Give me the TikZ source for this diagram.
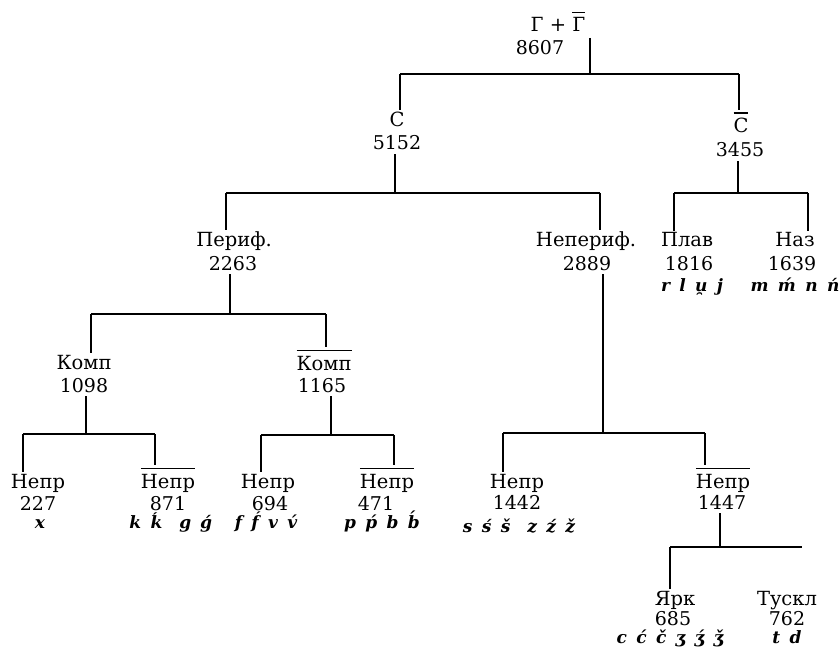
\documentclass[tikz,border=0pt]{standalone}
\usepackage{fontspec}
\setmainfont{DejaVu Serif}
\usepackage{tikz}
\usetikzlibrary{positioning,calc}
\newcommand\negbar[1]{\setbox0=\hbox{#1}\leavevmode\rlap{\rule[\dimexpr\ht0+5pt\relax]{\wd0}{1.1pt}}\box0}
\newcommand\sndfont{\fontsize{17}{18}\selectfont\bfseries\itshape\spaceskip=0.55em plus 0.1em\relax}
\tikzset{
  branch/.style={line width=1.1pt},
  lbl/.style={anchor=base,inner sep=2pt,font=\fontsize{19.5}{21}\selectfont},
  num/.style={anchor=base,inner sep=4pt,font=\fontsize{19}{20}\selectfont},
  snd/.style={anchor=base,inner sep=1pt,font=\sndfont}
}
\begin{document}
\begin{tikzpicture}[x=1pt,y=-1pt]
\useasboundingbox (0,0) rectangle (840,652);
\begin{scope}
    \node (gg) at (558,32) [lbl] {Г + \negbar{Г}};
    \node (n8607) at (540,55) [num] {8607};
    \coordinate (gg-s) at (590,38);
    \coordinate (b1l) at (400,74);
    \coordinate (b1r) at (739,74);
    \draw[branch] (gg-s) -- (gg-s |- b1l);
    \draw[branch] (b1l) -- (b1r);

    % consonants
    \node (cons) at (397,127) [lbl] {С};
    \node (n5152) at (397,150) [num] {5152};
    \node (ncons) at (741,133) [lbl] {\negbar{С}};
    \node (n3455) at (740,157) [num] {3455};
    \draw[branch] (b1l) -- (b1l |- cons.north);
    \draw[branch] (b1r) -- (b1r |- ncons.north);
\end{scope}

\begin{scope}
    \coordinate (b2s) at (395,193);
    \coordinate (b2l) at (226,193);
    \coordinate (b2r) at (600,193);
    \draw[branch] (n5152.south -| b2s) -- (b2s);
    \draw[branch] (b2l) -- (b2r);
    \node (per) at (234,247) [lbl] {Периф.};
    \node (n2263) at (233,270) [num] {2263};
    \node (nper) at (586,247) [lbl] {Непериф.};
    \node (n2889) at (587,270) [num] {2889};
    \draw[branch] (b2l) -- (b2l |- per.north);
    \draw[branch] (b2r) -- (b2r |- nper.north);

    \coordinate (b3s) at (738,193);
    \coordinate (b3l) at (674,193);
    \coordinate (b3r) at (808,193);
    \draw[branch] (n3455.south -| b3s) -- (b3s);
    \draw[branch] (b3l) -- (b3r);
    \node (plav) at (687,247) [lbl] {Плав};
    \node (n1816) at (689,270) [num] {1816};
    \node (s-plav) at (692,291) [snd] {r l u̯ j};
    \node (naz) at (795,247) [lbl] {Наз};
    \node (n1639) at (792,270) [num] {1639};
    \node (s-naz) at (795,291) [snd] {m ḿ n ń};
    \draw[branch] (b3l) -- (b3l |- plav.north);
    \draw[branch] (b3r) -- (b3r |- naz.north);
\end{scope}

\begin{scope}
    % peripheral
    \coordinate (b4s) at (230,314);
    \coordinate (b4l) at (91,314);
    \coordinate (b4r) at (326,314);
    \draw[branch] (n2263.south -| b4s) -- (b4s);
    \draw[branch] (b4l) -- (b4r);
    \node (komp) at (84,369) [lbl] {Комп};
    \node (n1098) at (84,392) [num] {1098};
    \node (nkomp) at (324,370) [lbl] {\negbar{Комп}};
    \node (n1165) at (322,392) [num] {1165};
    \draw[branch] (b4l) -- (b4l |- komp.north);
    \draw[branch] (b4r) -- (b4r |- nkomp.north);

    \coordinate (b5s) at (86,434);
    \coordinate (b5l) at (23,434);
    \coordinate (b5r) at (155,434);
    \draw[branch] (n1098.south -| b5s) -- (b5s);
    \draw[branch] (b5l) -- (b5r);
    \node (np227) at (38,488) [lbl] {Непр};
    \node (n227) at (38,510) [num] {227};
    \node (s-227) at (40,528) [snd] {x};
    \node (np871) at (168,488) [lbl] {\negbar{Непр}};
    \node (n871) at (168,510) [num] {871};
    \node (s-871) at (171,528) [snd] {k ḱ\quad g ǵ};
    \draw[branch] (b5l) -- (b5l |- np227.north);
    \draw[branch] (b5r) -- (b5r |- np871.north);

    \coordinate (b7s) at (331,435);
    \coordinate (b7l) at (261,435);
    \coordinate (b7r) at (394,435);
    \draw[branch] (n1165.south -| b7s) -- (b7s);
    \draw[branch] (b7l) -- (b7r);
    \node (np694) at (268,488) [lbl] {Непр};
    \node (n694) at (270,510) [num] {694};
    \node (s-694) at (266,528) [snd] {f f́ v v́};
    \node (np471) at (387,488) [lbl] {\negbar{Непр}};
    \node (n471) at (376,510) [num] {471};
    \node (s-471) at (382,528) [snd] {p ṕ b b́};
    \draw[branch] (b7l) -- (b7l |- np694.north);
    \draw[branch] (b7r) -- (b7r |- np471.north);
\end{scope}

\begin{scope}
    % non-peripheral
    \coordinate (b6s) at (603,433);
    \coordinate (b6l) at (503,433);
    \coordinate (b6r) at (705,433);
    \draw[branch] (n2889.south -| b6s) -- (b6s);
    \draw[branch] (b6l) -- (b6r);
    \node (np1442) at (517,488) [lbl] {Непр};
    \node (n1442) at (517,509) [num] {1442};
    \node (s-1442) at (519,532) [snd] {s ś š\quad z ź ž};
    \node (np1447) at (723,488) [lbl] {\negbar{Непр}};
    \node (n1447) at (722,509) [num] {1447};
    \draw[branch] (b6l) -- (b6l |- np1442.north);
    \draw[branch] (b6r) -- (b6r |- np1447.north);

    \coordinate (b8s) at (720,547);
    \coordinate (b8l) at (670,547);
    \coordinate (b8r) at (802,547);
    \draw[branch] (n1447.south -| b8s) -- (b8s);
    \draw[branch] (b8l) -- (b8r);
    \node (jark) at (675,605) [lbl] {Ярк};
    \node (n685) at (673,625) [num] {685};
    \node (s-685) at (670,643) [snd] {c ć č ʒ ʒ́ ǯ};
    \node (tuskl) at (787,605) [lbl] {Тускл};
    \node (n762) at (787,625) [num] {762};
    \node (s-762) at (787,643) [snd] {t d};
    \draw[branch] (b8l) -- (b8l |- jark.north);
\end{scope}
\end{tikzpicture}
\end{document}
